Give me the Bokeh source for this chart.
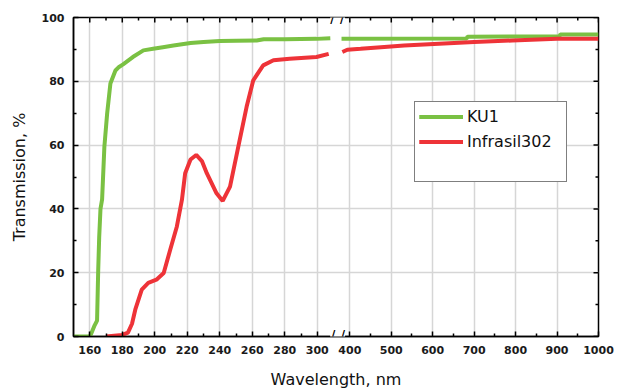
import math
from bokeh.plotting import figure
from bokeh.models import FixedTicker, Legend, LegendItem, Label, Range1d
from bokeh.embed import file_html
from bokeh.resources import INLINE

# ---------------- data ----------------
# KU1, UV part of the broken axis (nm, %)
ku1_uv_nm = [150, 160, 161, 163, 164.5, 165.2, 165.8, 166.6, 167.6, 169, 170.7, 172.7,
             175.8, 178, 180.5, 186.5, 193, 199, 205, 211.5, 222, 230, 240, 250,
             262.7, 267, 280, 299.5, 308]
ku1_uv_T = [0, 0, 1, 3.5, 5, 20.8, 31, 40, 43, 59.5, 69.9, 79.3,
            83.4, 84.5, 85.3, 87.6, 89.7, 90.2, 90.7, 91.2, 92.0, 92.3, 92.6, 92.7,
            92.8, 93.2, 93.2, 93.3, 93.5]
# KU1, visible/NIR part
ku1_vis_nm = [380, 682, 684, 906, 908, 1000]
ku1_vis_T = [93.3, 93.4, 94.0, 94.1, 94.7, 94.7]

# Infrasil302, UV part
inf_uv_nm = [170, 180, 183.5, 186, 188, 192, 196, 201, 205.5, 209.5, 213.6, 216.7,
             218.7, 222, 225.5, 229, 232, 238, 241.8, 246.3, 251.4, 256.5, 260.6,
             266.7, 273, 283, 299.5, 307]
inf_uv_T = [0, 0.5, 1.2, 4, 8.4, 14.7, 16.8, 17.8, 19.9, 27.2, 34.5, 42.8,
            51.2, 55.5, 56.9, 55, 51.2, 44.9, 42.5, 47, 59.5, 72, 80.3,
            85, 86.6, 87.1, 87.6, 88.6]
# Infrasil302, visible/NIR part
inf_vis_nm = [382, 394, 426, 475, 531, 615, 700, 792, 900, 1000]
inf_vis_T = [89.2, 89.9, 90.2, 90.7, 91.2, 91.8, 92.3, 92.8, 93.3, 93.3]

x_major_uv = [160, 180, 200, 220, 240, 260, 280, 300]
x_minor_uv = [170, 190, 210, 230, 250, 270, 290]
x_major_vis = [400, 500, 600, 700, 800, 900, 1000]
x_minor_vis = [450, 550, 650, 750, 850, 950]
y_major = [0, 20, 40, 60, 80, 100]
y_minor = [10, 30, 50, 70, 90]

series_names = ["KU1", "Infrasil302"]
series_colors = ["#7ac143", "#ee3338"]

# ---------------- broken-axis scale ----------------
UV_END = 312.5      # last wavelength on the UV part (position of the break)
VIS_START = 400     # wavelength mapped to VIS_U0
VIS_U0 = 320
VIS_SCALE = 0.255   # axis units per nm on the visible part
X_MIN, X_MAX_NM = 150, 1000


def u(nm):
    return nm if nm <= UV_END else VIS_U0 + (nm - VIS_START) * VIS_SCALE


FONT = "DejaVu Sans"

p = figure(width=624, height=391, x_range=Range1d(X_MIN, u(X_MAX_NM)), y_range=Range1d(0, 100),
           output_backend="svg", toolbar_location=None,
           min_border_left=73, min_border_right=26, min_border_top=17, min_border_bottom=54)
p.background_fill_color = "white"
p.border_fill_color = "white"
p.outline_line_color = "black"
p.outline_line_width = 1.5

x_ticks = [u(t) for t in x_major_uv + x_major_vis]
x_minor = [u(t) for t in x_minor_uv + x_minor_vis]
xticker = FixedTicker(ticks=x_ticks, minor_ticks=x_minor)
yticker = FixedTicker(ticks=y_major, minor_ticks=y_minor)

for ax in (p.xaxis[0], p.yaxis[0]):
    ax.axis_line_color = "black"
    ax.axis_line_width = 1.5
    ax.major_tick_in = 5
    ax.major_tick_out = 0
    ax.minor_tick_in = 3
    ax.minor_tick_out = 0
    ax.major_tick_line_color = "black"
    ax.minor_tick_line_color = "black"
    ax.major_tick_line_width = 1.5
    ax.minor_tick_line_width = 1.5
    ax.major_label_text_font = FONT
    ax.major_label_text_font_size = "11px"
    ax.major_label_text_font_style = "bold"
    ax.major_label_text_color = "#1a1a1a"
    ax.axis_label_text_font = FONT
    ax.axis_label_text_font_size = "16px"
    ax.axis_label_text_font_style = "normal"
    ax.axis_label_text_color = "#111111"

p.xaxis[0].ticker = xticker
p.xaxis[0].major_label_overrides = {u(t): str(t) for t in x_major_uv + x_major_vis}
p.xaxis[0].major_label_standoff = 9
p.xaxis[0].axis_label = "Wavelength, nm"
p.xaxis[0].axis_label_standoff = 13

p.yaxis[0].ticker = yticker
p.yaxis[0].major_label_standoff = 9
p.yaxis[0].axis_label = "Transmission, %"
p.yaxis[0].axis_label_standoff = 10

p.xgrid.ticker = FixedTicker(ticks=[u(t) for t in x_major_uv + x_major_vis[:-1]])
p.ygrid.ticker = FixedTicker(ticks=y_major[1:-1])
for g in (p.xgrid[0], p.ygrid[0]):
    g.grid_line_color = "#d6d6d6"
    g.grid_line_width = 1.5

# inward tick marks on the top and right frame edges (dash markers, clipped by the frame)
p.scatter(x_ticks, [100] * len(x_ticks), marker="dash", size=10, angle=math.pi / 2,
          line_color="black", line_width=1.5)
p.scatter(x_minor, [100] * len(x_minor), marker="dash", size=6, angle=math.pi / 2,
          line_color="black", line_width=1.5)
p.scatter([u(X_MAX_NM)] * len(y_major), y_major, marker="dash", size=10,
          line_color="black", line_width=1.5)
p.scatter([u(X_MAX_NM)] * len(y_minor), y_minor, marker="dash", size=6,
          line_color="black", line_width=1.5)

renderers = []
for (uv_nm, uv_T, vis_nm, vis_T), color in zip(
        [(ku1_uv_nm, ku1_uv_T, ku1_vis_nm, ku1_vis_T),
         (inf_uv_nm, inf_uv_T, inf_vis_nm, inf_vis_T)], series_colors):
    ra = p.line([u(v) for v in uv_nm], uv_T, line_color=color, line_width=4)
    rb = p.line([u(v) for v in vis_nm], vis_T, line_color=color, line_width=4)
    renderers.append([ra, rb])

dummy = p.line([], [], line_alpha=0)

legend = Legend(items=[LegendItem(label=series_names[0], renderers=renderers[0]),
                       LegendItem(label=series_names[1], renderers=renderers[1]),
                       LegendItem(label=" ", renderers=[dummy])],
                location=(341, 154), padding=4, spacing=4, glyph_height=21, glyph_width=44,
                label_standoff=4, label_width=95, margin=0,
                border_line_color="black", border_line_width=1.2,
                background_fill_color="white", background_fill_alpha=1,
                label_text_font=FONT, label_text_font_size="16px", label_text_color="#111111")
p.add_layout(legend)

for yv in (100, 0):
    p.add_layout(Label(x=UV_END, y=yv, text="/ /", text_align="center", text_baseline="middle",
                       text_font=FONT, text_font_size="15px", text_color="black",
                       background_fill_color="white", background_fill_alpha=1))

open("out.html", "w").write(file_html(p, INLINE))
